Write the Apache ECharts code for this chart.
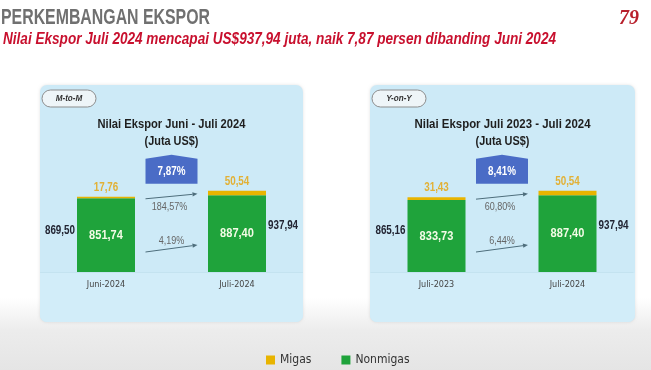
<!DOCTYPE html>
<html><head><meta charset="utf-8">
<script src="https://cdn.jsdelivr.net/npm/echarts@6/dist/echarts.min.js"></script>
<style>html,body{margin:0;padding:0;background:#fff}#c{width:651px;height:370px}</style>
</head><body><div id="c"></div>
<script>
const categoriesMtM = ['Juni-2024', 'Juli-2024'];
const migasMtM = [17.76, 50.54];
const nonmigasMtM = [851.74, 887.40];
const totalMtM = [869.50, 937.94];
const growthMtM = [7.87, 184.57, 4.19]; // total, migas, nonmigas

const categoriesYoY = ['Juli-2023', 'Juli-2024'];
const migasYoY = [31.43, 50.54];
const nonmigasYoY = [833.73, 887.40];
const totalYoY = [865.16, 937.94];
const growthYoY = [8.41, 60.80, 6.44];

const legendNames = ['Migas', 'Nonmigas'];

const SANS = "'Liberation Sans',Arial,sans-serif";
const COND = "'DejaVu Sans Condensed','DejaVu Sans',sans-serif";
const NX = 0.82; // narrow width factor
const GREEN = '#1fa33b', GOLD = '#e8b400';
const fmt = v => v.toFixed(2).replace('.', ',');

const mctx = document.createElement('canvas').getContext('2d');
function fitScale(text, font, width) { mctx.font = font; return width / mctx.measureText(text).width; }

function T(x, y, text, font, fill, align, sx, extra) {
  return Object.assign({type: 'text', x, y, scaleX: sx == null ? NX : sx,
    style: {text, font, fill, align: align || 'left', verticalAlign: 'middle'}}, extra || {});
}

const chart = echarts.init(document.getElementById('c'), null, {renderer: 'canvas'});

function arrow(x1, y1, x2, y2, color) {
  const a = Math.atan2(y2 - y1, x2 - x1), L = 5, W = 2.2;
  const bx = x2 - L * Math.cos(a), by = y2 - L * Math.sin(a);
  return [
    {type: 'line', shape: {x1, y1, x2: bx, y2: by}, style: {stroke: color, lineWidth: 1}},
    {type: 'polygon', shape: {points: [[x2, y2], [bx - W * Math.sin(a), by + W * Math.cos(a)], [bx + W * Math.sin(a), by - W * Math.cos(a)]]}, style: {fill: color}}
  ];
}

function growthSeries(idx, totals, growth) {
  return {
    type: 'custom', xAxisIndex: idx, yAxisIndex: idx, z: 5, silent: true,
    data: [[0, totals[0]]],
    renderItem: function (params, api) {
      const p0 = api.coord([0, totals[0]]);
      const p1 = api.coord([1, totals[1]]);
      const base = api.coord([0, 0])[1];
      const mid = (p0[0] + p1[0]) / 2;
      const yTop = p1[1];
      const col = '#4e6e7c';
      const children = [
        {type: 'polygon', shape: {points: [[mid - 26, yTop - 7], [mid - 26, yTop - 32], [mid, yTop - 36], [mid + 26, yTop - 32], [mid + 26, yTop - 7]]}, style: {fill: '#4a6cc6'}},
        T(mid, yTop - 19, fmt(growth[0]) + '%', "bold 12px " + SANS, '#ffffff', 'center'),
        T(mid - 2, p0[1] + 10, fmt(growth[1]) + '%', "11px " + SANS, '#666666', 'center'),
        T(mid, base - 31, fmt(growth[2]) + '%', "11px " + SANS, '#666666', 'center')
      ].concat(arrow(mid - 26, p0[1] + 2, mid + 26, p1[1] + 3, col))
       .concat(arrow(mid - 26, base - 20, mid + 26, base - 27, col));
      return {type: 'group', children};
    }
  };
}

function labelSeries(idx, migas, nonmigas, totals) {
  return {
    type: 'custom', xAxisIndex: idx, yAxisIndex: idx, z: 5, silent: true,
    data: totals.map((v, i) => [i, v, nonmigas[i], migas[i]]),
    encode: {x: 0, y: 1},
    renderItem: function (params, api) {
      const i = api.value(0), t = api.value(1), nm = api.value(2), mg = api.value(3);
      const pMid = api.coord([i, t * 0.5]);
      const pNm = api.coord([i, nm * 0.5]);
      const pTop = api.coord([i, nm + mg]);
      const left = i === 0;
      return {type: 'group', children: [
        T(left ? pMid[0] - 31 : pMid[0] + 31, pMid[1] - (left ? 4 : 6), fmt(t), "bold 12px " + SANS, '#222533', left ? 'right' : 'left'),
        T(pNm[0], pNm[1], fmt(nm), "bold 13px " + SANS, '#f3fbe6', 'center', 0.85),
        T(pTop[0], pTop[1] - 9, fmt(mg), "bold 12px " + SANS, '#e2b136', 'center')
      ]};
    }
  };
}

function barSeries(idx, migas, nonmigas) {
  return [
    {name: 'Nonmigas', type: 'bar', stack: 's' + idx, xAxisIndex: idx, yAxisIndex: idx, barWidth: 58, data: nonmigas,
      itemStyle: {color: GREEN}},
    {name: 'Migas', type: 'bar', stack: 's' + idx, xAxisIndex: idx, yAxisIndex: idx, barWidth: 58, data: migas,
      itemStyle: {color: GOLD}}
  ];
}

function xAx(idx, cats) {
  return {type: 'category', gridIndex: idx, data: cats,
    axisLine: {show: true, lineStyle: {color: '#c4e3f0'}}, axisTick: {show: false},
    axisLabel: {color: '#454545', fontSize: 9, fontFamily: COND, margin: 8}};
}
function yAx(idx) {
  return {type: 'value', gridIndex: idx, min: 0, max: 2000, show: false, splitLine: {show: false}};
}

function panel(x, w, pill, title, titleW) {
  const cx = x + w / 2;
  const tf = "bold 13px " + SANS;
  return [
    {type: 'rect', z: -5, shape: {x: x, y: 85, width: w, height: 237, r: 7}, style: {fill: '#cdeaf7', shadowBlur: 3, shadowColor: 'rgba(0,0,0,0.12)'}},
    {type: 'rect', z: -4, shape: {x: x, y: 273, width: w, height: 49, r: [0, 0, 7, 7]}, style: {fill: '#d2edf9'}},
    {type: 'rect', z: -3, shape: {x: x + 2, y: 90, width: 54, height: 17, r: 8.5}, style: {fill: '#eef5f8', stroke: '#8d8d8d', lineWidth: 1}},
    T(x + 29, 98.5, pill, "italic bold 9px " + SANS, '#333', 'center', 0.9, {z: -2}),
    T(cx, 124, title, tf, '#1e1e1e', 'center', fitScale(title, tf, titleW), {z: -2}),
    T(cx, 141, '(Juta US$)', tf, '#1e1e1e', 'center', fitScale('(Juta US$)', tf, 54), {z: -2})
  ];
}

const titleText = 'PERKEMBANGAN EKSPOR';
const subText = 'Nilai Ekspor Juli 2024 mencapai US$937,94 juta, naik 7,87 persen dibanding Juni 2024';
const titleFont = "bold 22px " + SANS, subFont = "italic bold 16px " + SANS;

const option = {
  animation: false,
  backgroundColor: '#ffffff',
  graphic: [
    {type: 'rect', z: -10, shape: {x: 0, y: 298, width: 651, height: 72}, style: {fill: new echarts.graphic.LinearGradient(0, 0, 0, 1, [{offset: 0, color: '#ffffff'}, {offset: 0.45, color: '#ececec'}, {offset: 1, color: '#e5e5e5'}])}},
    T(1, 18, titleText, titleFont, '#707070', 'left', fitScale(titleText, titleFont, 209)),
    T(3, 40, subText, subFont, '#c8102e', 'left', fitScale(subText, subFont, 553)),
    T(619, 19, '79', "italic bold 21px 'Liberation Serif',serif", '#b8202c', 'left', 0.95),
    ...panel(40, 263, 'M-to-M', 'Nilai Ekspor Juni - Juli 2024', 148),
    ...panel(370, 265, 'Y-on-Y', 'Nilai Ekspor Juli 2023 - Juli 2024', 176)
  ],
  legend: {data: legendNames, left: 261, top: 349, itemWidth: 9, itemHeight: 9, itemGap: 30, icon: 'rect',
    textStyle: {color: '#333', fontSize: 12, fontFamily: COND}},
  grid: [
    {left: 40.5, width: 262, top: 99, height: 173},
    {left: 371, width: 262, top: 99, height: 173}
  ],
  xAxis: [xAx(0, categoriesMtM), xAx(1, categoriesYoY)],
  yAxis: [yAx(0), yAx(1)],
  series: [
    ...barSeries(0, migasMtM, nonmigasMtM),
    ...barSeries(1, migasYoY, nonmigasYoY),
    labelSeries(0, migasMtM, nonmigasMtM, totalMtM), labelSeries(1, migasYoY, nonmigasYoY, totalYoY),
    growthSeries(0, totalMtM, growthMtM), growthSeries(1, totalYoY, growthYoY)
  ]
};
chart.setOption(option);
</script></body></html>
